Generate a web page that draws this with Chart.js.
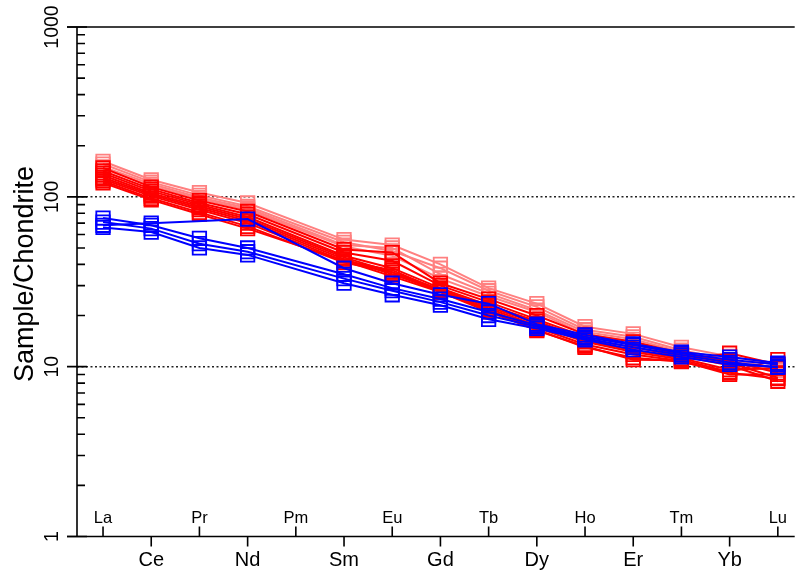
<!DOCTYPE html>
<html>
<head>
<meta charset="utf-8">
<script src="https://cdn.jsdelivr.net/npm/chart.js@4/dist/chart.umd.min.js"></script>
<style>
  body { margin: 0; background: #fff; }
  canvas { display: block; }
</style>
</head>
<body>
<canvas id="ree" width="806" height="573"></canvas>
<script>
// REE order, Pm has no analyses
const elements = ['La','Ce','Pr','Nd','Pm','Sm','Eu','Gd','Tb','Dy','Ho','Er','Tm','Yb','Lu'];
const yTicks = [1, 10, 100, 1000];
const dottedAt = [10, 100];

// chondrite-normalised values, one row per sample
const pinkSamples = [
  [162, 126, 106, 92, null, 56, 52, 40, 29, 23.5, 17.2, 15.6, 13, 11.5, 10.2],
  [156, 122, 102, 88, null, 54, 48, 38, 28, 22.5, 16.5, 15, 12.5, 11, 9.8],
  [150, 119, 99, 86, null, 52, 50, 35, 27, 21.5, 16, 14.5, 12.2, 10.8, 9.6],
  [146, 116, 97, 84, null, 51, 45, 33, 26, 21, 15.5, 14, 12, 10.5, 9.5]
];
const redSamples = [
  [148, 114, 95, 82, null, 49, 47, 31, 25, 20, 15.5, 14, 12, 10.8, 9.2],
  [142, 111, 92, 79, null, 47, 42, 30, 24, 19, 15, 13.5, 11.8, 10.5, 8.6],
  [138, 108, 90, 76, null, 45, 38, 29, 23, 18.5, 14.5, 13, 11.5, 10.2, 8.2],
  [134, 105, 88, 74, null, 44, 36, 28.5, 22.5, 18, 14.2, 12.5, 11.2, 9.6, 9.8],
  [130, 103, 86, 72, null, 43, 35, 28, 22, 17.5, 14, 12.2, 11, 9.3, 11.0],
  [127, 101, 84, 70, null, 42, 34, 27.5, 21.5, 17, 13.5, 11.8, 10.8, 9.0, 9.0],
  [124, 98, 81, 67, null, 41, 36, 27.5, 21, 16.5, 13, 11.3, 10.7, 9.2, 8.5],
  [121, 96, 79, 65, null, 42, 37, 28, 21.5, 16.3, 13.2, 11.0, 10.9, 12.0, 10.3]
];
const blueSamples = [
  [68, 70, null, 74, null, 38, 31, 26.5, 23.5, 17.8, 15.4, 13.6, 12.2, 11.4, 10.5],
  [75, 68, 57, 50, null, 35, 29, 25, 21, 17.5, 15, 13.4, 12, 11.0, 10.3],
  [71, 65, 53, 47.5, null, 33, 28, 24, 20, 17.2, 14.7, 13, 11.7, 10.6, 9.9],
  [66, 62, 50, 45.5, null, 31, 26.5, 23, 19, 16.8, 14.4, 12.6, 11.4, 10.3, 10.0]
];

const FONT = '"Liberation Sans", Arial, Helvetica, sans-serif';

function toPoints(row) {
  return row.map((v, i) => ({x: i, y: v})).filter(p => p.y !== null);
}

function makeSet(row, color, order) {
  return {
    data: toPoints(row),
    borderColor: color,
    borderWidth: 2,
    pointStyle: 'rect',
    pointRadius: 9.5,
    pointBorderWidth: 1.8,
    pointBorderColor: color,
    pointBackgroundColor: 'rgba(0,0,0,0)',
    tension: 0,
    fill: false,
    order: order
  };
}

const datasets = []
  .concat(blueSamples.map(r => makeSet(r, '#0000ff', 0)))
  .concat(redSamples.map(r => makeSet(r, '#ff0000', 1)))
  .concat(pinkSamples.map(r => makeSet(r, '#ff8080', 2)));

// hand drawn frame: crossing major ticks, inner minor ticks, staggered element names
const reeAxes = {
  id: 'reeAxes',
  beforeDatasetsDraw(chart) {
    const ctx = chart.ctx, a = chart.chartArea, y = chart.scales.y;
    ctx.save();
    ctx.strokeStyle = '#222';
    ctx.lineWidth = 1.5;
    ctx.setLineDash([2, 2.5]);
    dottedAt.forEach(v => {
      const py = y.getPixelForValue(v);
      ctx.beginPath();
      ctx.moveTo(a.left, py);
      ctx.lineTo(a.right, py);
      ctx.stroke();
    });
    ctx.restore();
  },
  afterDatasetsDraw(chart) {
    const ctx = chart.ctx, a = chart.chartArea, x = chart.scales.x, y = chart.scales.y;
    ctx.save();
    ctx.strokeStyle = '#000';
    ctx.fillStyle = '#000';
    ctx.lineWidth = 1.6;

    // frame lines
    ctx.beginPath();
    ctx.moveTo(a.left, a.top);
    ctx.lineTo(a.left, a.bottom);
    ctx.moveTo(a.left - 10, a.bottom);
    ctx.lineTo(a.right, a.bottom);
    ctx.moveTo(a.left - 10, a.top);
    ctx.lineTo(a.right, a.top);
    ctx.stroke();

    // y ticks
    ctx.beginPath();
    yTicks.forEach(v => {
      const py = y.getPixelForValue(v);
      ctx.moveTo(a.left - 10, py);
      ctx.lineTo(a.left + 10, py);
    });
    yTicks.slice(0, -1).forEach(d => {
      for (let m = 2; m <= 9; m++) {
        const py = y.getPixelForValue(m * d);
        ctx.moveTo(a.left, py);
        ctx.lineTo(a.left + 8, py);
      }
    });
    ctx.stroke();

    ctx.font = '19.5px ' + FONT;
    ctx.textAlign = 'center';
    ctx.textBaseline = 'middle';
    yTicks.forEach(v => {
      ctx.save();
      ctx.translate(a.left - 24, y.getPixelForValue(v));
      ctx.rotate(-Math.PI / 2);
      ctx.fillText(String(v), 0, 0);
      ctx.restore();
    });

    // element ticks and names
    ctx.beginPath();
    elements.forEach((el, i) => {
      const px = x.getPixelForValue(i);
      if (i % 2 === 0) {
        ctx.moveTo(px, a.bottom);
        ctx.lineTo(px, a.bottom - 10);
      } else {
        ctx.moveTo(px, a.bottom);
        ctx.lineTo(px, a.bottom + 10);
      }
    });
    ctx.stroke();

    ctx.textBaseline = 'alphabetic';
    elements.forEach((el, i) => {
      const px = x.getPixelForValue(i);
      if (i % 2 === 0) {
        ctx.font = '16.5px ' + FONT;
        ctx.fillText(el, px, a.bottom - 14);
      } else {
        ctx.font = '20px ' + FONT;
        ctx.fillText(el, px, a.bottom + 29);
      }
    });

    // axis title
    ctx.save();
    ctx.font = '27px ' + FONT;
    ctx.textBaseline = 'middle';
    ctx.translate(26, 274);
    ctx.rotate(-Math.PI / 2);
    ctx.fillText('Sample/Chondrite', 0, 0);
    ctx.restore();

    ctx.restore();
  }
};

new Chart(document.getElementById('ree'), {
  type: 'line',
  data: { datasets: datasets },
  options: {
    responsive: false,
    animation: false,
    devicePixelRatio: 1,
    layout: { padding: { left: 77, top: 27, right: 0, bottom: 36.5 } },
    plugins: {
      legend: { display: false },
      tooltip: { enabled: false }
    },
    scales: {
      x: { type: 'linear', min: -0.54, max: 14.35, display: false },
      y: { type: 'logarithmic', min: 1, max: 1000, display: false }
    }
  },
  plugins: [reeAxes]
});
</script>
</body>
</html>
